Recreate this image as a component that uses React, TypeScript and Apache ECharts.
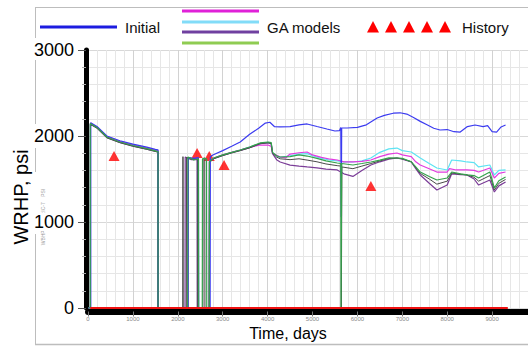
import React, { useEffect, useRef } from "react";
import * as echarts from "echarts";

// ---- data (day, WRHP psi) ----
const initialData: number[][] = [
  [0, 0], [60, 0], [60, 2155], [200, 2110], [420, 2000], [710, 1945], [1000, 1905], [1310, 1870], [1500, 1845], [1560, 1838], [1560, 0],
  [2230, 0], [2235, 1745], [2350, 1740], [2460, 1748], [2465, 0],
  [2720, 0], [2725, 1760], [2780, 1779], [3000, 1830], [3200, 1880], [3390, 1930], [3600, 2020], [3800, 2090], [3950, 2150], [4050, 2160],
  [4150, 2110], [4280, 2105], [4500, 2110], [4700, 2130], [4880, 2140], [5100, 2110], [5320, 2081], [5500, 2058], [5600, 2062],
  [5630, 2100], [5640, 1058], [5650, 2093], [5770, 2093], [6000, 2100], [6200, 2130], [6440, 2209], [6600, 2240], [6800, 2265],
  [6950, 2270], [7100, 2255], [7250, 2215], [7400, 2170], [7550, 2130], [7700, 2090], [7840, 2070], [8000, 2075], [8150, 2050],
  [8290, 2046], [8450, 2110], [8620, 2128], [8800, 2110], [8900, 2120], [9000, 2050], [9100, 2046], [9200, 2105], [9300, 2128],
];

const magentaData: number[][] = [
  [0, 0], [55, 0], [55, 2150], [200, 2105], [420, 1995], [710, 1938], [1000, 1898], [1310, 1862], [1560, 1828], [1560, 0],
  [2230, 0], [2235, 1750], [2350, 1738], [2450, 1742], [2455, 0],
  [2700, 0], [2705, 1712], [2800, 1742], [3000, 1780], [3200, 1810], [3390, 1835], [3600, 1868], [3830, 1895], [4010, 1895], [4080, 1880],
  [4110, 1800], [4180, 1780], [4280, 1756], [4400, 1745], [4500, 1790], [4700, 1805], [4880, 1814], [5000, 1780], [5200, 1752],
  [5400, 1730], [5550, 1721], [5700, 1700], [5900, 1698], [6100, 1705], [6300, 1721], [6500, 1760], [6700, 1790], [6880, 1802],
  [7000, 1780], [7200, 1760], [7300, 1700], [7400, 1663], [7600, 1620], [7770, 1581], [8000, 1581], [8050, 1620], [8200, 1605],
  [8440, 1605], [8600, 1600], [8700, 1581], [8950, 1628], [9050, 1512], [9150, 1565], [9300, 1581],
];

const cyanData: number[][] = [
  [0, 0], [55, 0], [55, 2145], [200, 2100], [420, 1990], [710, 1935], [1000, 1894], [1310, 1858], [1560, 1825], [1560, 0],
  [2230, 0], [2235, 1748], [2350, 1735], [2450, 1740], [2455, 0],
  [2700, 0], [2705, 1708], [2800, 1740], [3000, 1778], [3200, 1808], [3390, 1836], [3600, 1870], [3830, 1912], [4010, 1925], [4080, 1915],
  [4110, 1805], [4180, 1775], [4280, 1752], [4500, 1770], [4700, 1790], [4880, 1795], [5000, 1770], [5200, 1740], [5400, 1718],
  [5550, 1710], [5700, 1700], [5900, 1698], [6100, 1710], [6300, 1744], [6500, 1810], [6700, 1850], [6880, 1860], [7000, 1830],
  [7200, 1814], [7300, 1780], [7400, 1744], [7600, 1680], [7770, 1628], [8000, 1605], [8100, 1721], [8300, 1710], [8440, 1698],
  [8600, 1690], [8700, 1640], [8950, 1663], [9050, 1547], [9150, 1600], [9300, 1605],
];

const purpleData: number[][] = [
  [0, 0], [55, 0], [55, 2140], [200, 2095], [420, 1982], [710, 1925], [1000, 1884], [1310, 1848], [1560, 1815], [1560, 0],
  [2160, 0], [2165, 1755], [2300, 1725], [2430, 1728], [2435, 0],
  [2700, 0], [2705, 1700], [2800, 1738], [3000, 1775], [3200, 1806], [3390, 1832], [3600, 1865], [3830, 1912], [4010, 1922], [4080, 1915],
  [4110, 1795], [4200, 1725], [4280, 1698], [4500, 1662], [4700, 1650], [4880, 1640], [5100, 1630], [5300, 1615], [5550, 1605],
  [5700, 1560], [5900, 1530], [6100, 1600], [6300, 1663], [6500, 1700], [6700, 1730], [6880, 1744], [7000, 1730], [7200, 1700],
  [7300, 1620], [7400, 1547], [7600, 1450], [7770, 1372], [8000, 1430], [8100, 1560], [8300, 1550], [8440, 1547], [8600, 1500],
  [8700, 1430], [8950, 1488], [9050, 1349], [9150, 1420], [9300, 1465],
];

const greenData: number[][] = [
  [0, 0], [50, 0], [50, 2145], [200, 2100], [420, 1988], [710, 1930], [1000, 1890], [1310, 1853], [1560, 1818], [1560, 0],
  [2220, 0], [2225, 1755], [2300, 1740], [2350, 1722], [2420, 1730], [2460, 1735], [2465, 0],
  [2545, 0], [2550, 1735], [2600, 1740], [2640, 1735], [2645, 0],
  [2700, 0], [2705, 1702], [2800, 1744], [3000, 1780], [3200, 1810], [3390, 1837], [3600, 1872], [3830, 1919], [4010, 1930], [4080, 1922],
  [4110, 1810], [4200, 1770], [4280, 1756], [4500, 1760], [4700, 1780], [4880, 1767], [5100, 1740], [5300, 1710], [5550, 1686],
  [5630, 1680], [5635, 0], [5645, 0], [5650, 1680], [5900, 1663], [6100, 1680], [6300, 1698], [6500, 1720], [6700, 1745],
  [6880, 1744], [7000, 1740], [7200, 1700], [7300, 1640], [7400, 1581], [7600, 1530], [7770, 1488], [8000, 1512], [8100, 1581],
  [8300, 1560], [8440, 1547], [8600, 1540], [8700, 1512], [8950, 1581], [9050, 1395], [9150, 1480], [9300, 1523],
];

const grayData: number[][] = [
  [0, 0], [52, 0], [52, 2135], [200, 2090], [420, 1978], [710, 1922], [1000, 1880], [1310, 1845], [1560, 1812], [1560, 0],
  [2110, 0], [2115, 1760], [2120, 0], [2190, 0], [2195, 1750], [2300, 1735], [2440, 1730], [2445, 0],
  [2560, 0], [2565, 1740], [2600, 1745], [2605, 0],
  [2700, 0], [2705, 1692], [2800, 1735], [3000, 1772], [3200, 1803], [3390, 1830], [3600, 1862], [3830, 1910], [4010, 1920], [4080, 1912],
  [4110, 1800], [4200, 1755], [4280, 1735], [4500, 1725], [4700, 1735], [4880, 1720], [5100, 1700], [5300, 1675], [5550, 1655],
  [5640, 1650], [5642, 0], [5652, 0], [5655, 1640], [5900, 1620], [6100, 1650], [6300, 1680], [6500, 1710], [6700, 1738],
  [6880, 1744], [7000, 1735], [7200, 1700], [7300, 1630], [7400, 1565], [7600, 1500], [7770, 1440], [8000, 1475], [8100, 1570],
  [8300, 1555], [8440, 1547], [8600, 1520], [8700, 1475], [8950, 1540], [9050, 1372], [9150, 1450], [9300, 1495],
];

const historyLine: number[][] = [[50, 0], [9350, 0]];
const historyPoints: number[][] = [[580, 1767], [2430, 1802], [2700, 1767], [3030, 1663], [6300, 1419]];

const xTickLabels = ["0", "1000", "2000", "3000", "4000", "5000", "6000", "7000", "8000", "9000", "10000"];
const yTickLabels = ["0", "1000", "2000", "3000"];

const FONT = "Liberation Sans, Arial, sans-serif";

export default function App() {
  const ref = useRef<HTMLDivElement>(null);

  useEffect(() => {
    if (!ref.current) return;
    const chart = echarts.init(ref.current, undefined, { renderer: "svg" });

    const lineSeries = (name: string, data: number[][], color: string, width = 1.2) => ({
      name,
      type: "line",
      data,
      symbol: "none",
      showSymbol: false,
      lineStyle: { color, width },
      itemStyle: { color },
      silent: true,
    });

    const tri = (cx: number, cy: number) => ({
      type: "polygon",
      shape: { points: [[cx - 6, cy + 5.5], [cx + 6, cy + 5.5], [cx, cy - 6]] },
      style: { fill: "#ff0000" },
    });

    const hline = (x1: number, x2: number, y: number, color: string, w: number) => ({
      type: "line",
      shape: { x1, y1: y, x2, y2: y },
      style: { stroke: color, lineWidth: w },
    });

    const option: any = {
      animation: false,
      backgroundColor: "#ffffff",
      grid: { left: 88, right: -9, top: 50, bottom: 38, containLabel: false, outerBoundsMode: "none" },
      xAxis: {
        type: "value",
        min: 0,
        max: 10000,
        interval: 1000,
        offset: 3.5,
        axisLine: { show: true, onZero: false, lineStyle: { color: "#000", width: 6 } },
        axisTick: { show: true, length: 5, lineStyle: { color: "#777", width: 1 } },
        axisLabel: {
          fontSize: 6,
          color: "#888",
          margin: 4,
          fontFamily: FONT,
          formatter: (v: number) => xTickLabels[Math.round(v / 1000)] ?? "",
        },
        splitLine: { show: true, lineStyle: { color: "#d2d2d2", width: 1 } },
        minorTick: { show: false, splitNumber: 5 },
        minorSplitLine: { show: true, lineStyle: { color: "#e6e6e6", width: 1 } },
      },
      yAxis: {
        type: "value",
        min: 0,
        max: 3000,
        interval: 1000,
        offset: 2,
        axisLine: { show: true, onZero: false, lineStyle: { color: "#000", width: 5 } },
        axisTick: { show: true, length: 8, lineStyle: { color: "#555", width: 1 } },
        minorTick: { show: true, splitNumber: 5, length: 4, lineStyle: { color: "#aaa", width: 1 } },
        axisLabel: {
          fontSize: 18,
          color: "#000",
          margin: 11,
          fontFamily: FONT,
          backgroundColor: "#fff",
          padding: [0, 1, 0, 2],
          formatter: (v: number) => yTickLabels[Math.round(v / 1000)] ?? "",
        },
        splitLine: { show: true, lineStyle: { color: "#d8d8d8", width: 1 } },
        minorSplitLine: { show: true, lineStyle: { color: "#e6e6e6", width: 1 } },
      },
      series: [
        lineSeries("GA cyan", cyanData, "#5de3f3"),
        lineSeries("GA magenta", magentaData, "#e23ae0"),
        lineSeries("GA purple", purpleData, "#7b3d98"),
        lineSeries("GA gray", grayData, "#4a4a4a", 1),
        lineSeries("Initial", initialData, "#3b3bf0"),
        lineSeries("GA green", greenData, "#35a24c"),
        lineSeries("History", historyLine, "#ee1111", 2),
        {
          name: "History points",
          type: "scatter",
          data: historyPoints,
          symbol: "triangle",
          symbolSize: [11, 10],
          itemStyle: { color: "#ff0000" },
          silent: true,
        },
      ],
      graphic: [
        // frame
        hline(35, 528, 7.5, "#bdbdbd", 1),
        hline(35, 528, 344.5, "#bdbdbd", 1.5),
        { type: "line", shape: { x1: 35.5, y1: 7, x2: 35.5, y2: 38 }, style: { stroke: "#bdbdbd", lineWidth: 1 } },
        { type: "line", shape: { x1: 35.5, y1: 60, x2: 35.5, y2: 124 }, style: { stroke: "#bdbdbd", lineWidth: 1 } },
        { type: "line", shape: { x1: 35.5, y1: 148, x2: 35.5, y2: 172 }, style: { stroke: "#bdbdbd", lineWidth: 1 } },
        { type: "line", shape: { x1: 35.5, y1: 234, x2: 35.5, y2: 345 }, style: { stroke: "#bdbdbd", lineWidth: 1 } },
        // legend
        hline(40, 117, 27, "#1c1ce0", 3),
        { type: "text", x: 125, y: 27, style: { text: "Initial", font: `15px ${FONT}`, fill: "#111", verticalAlign: "middle" } },
        hline(182, 259, 11, "#e021d8", 3),
        hline(182, 259, 22, "#82dcf8", 3),
        hline(182, 259, 32, "#7040a0", 3),
        hline(182, 259, 43, "#8fcc52", 3),
        { type: "text", x: 267, y: 27, style: { text: "GA models", font: `15px ${FONT}`, fill: "#111", verticalAlign: "middle" } },
        tri(373, 27), tri(391, 27), tri(409, 27), tri(427, 27), tri(445, 27),
        { type: "text", x: 462, y: 27, style: { text: "History", font: `15px ${FONT}`, fill: "#111", verticalAlign: "middle" } },
        // titles
        {
          type: "text",
          x: 21,
          y: 197,
          rotation: Math.PI / 2,
          style: { text: "WRHP, psi", font: `20px ${FONT}`, fill: "#000", align: "center", verticalAlign: "middle" },
        },
        {
          type: "text",
          x: 43,
          y: 217,
          rotation: Math.PI / 2,
          style: { text: "WBHP:K    PH:IC-7    PSI", font: `5px ${FONT}`, fill: "#999", align: "center", verticalAlign: "middle" },
        },
        {
          type: "text",
          x: 288,
          y: 333,
          style: { text: "Time, days", font: `16px ${FONT}`, fill: "#000", align: "center", verticalAlign: "middle" },
        },
      ],
    };

    chart.setOption(option);
    return () => chart.dispose();
  }, []);

  return (
    <div
      ref={ref}
      style={{ position: "absolute", left: 0, top: 0, width: 528, height: 346, background: "#fff" }}
    />
  );
}
